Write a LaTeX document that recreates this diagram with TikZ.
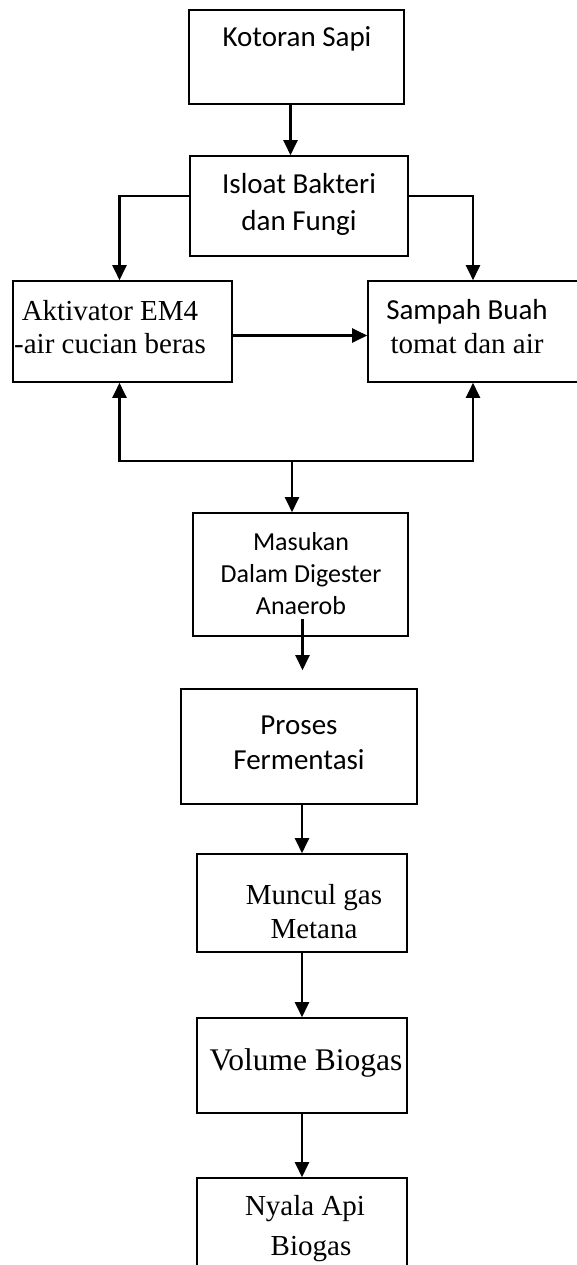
\documentclass[tikz,border=0pt]{standalone}
\usepackage{fontspec}
\setmainfont{Liberation Serif}
\newfontfamily\calibri{Carlito}
\usetikzlibrary{arrows.meta, positioning}

\begin{document}
\begin{tikzpicture}
  [
    x=1pt, y=-1pt,
    box/.style={draw, line width=1.6pt, inner sep=0pt},
    txt/.style={align=center, anchor=base, inner sep=0pt},
    flow/.style={line width=2.3pt, -{Triangle[length=15pt,width=14pt]}}
  ]
  \useasboundingbox (0,0) rectangle (576,1265);

  % boxes
  \node[box, minimum width=215pt, minimum height=94pt] (b1) at (296.5,57) {};
  \node[box, minimum width=218pt, minimum height=100pt] (b2) at (299,206) {};
  \node[box, minimum width=219pt, minimum height=101pt] (b3) at (122.5,331.5) {};
  \node[box, minimum width=220pt, minimum height=101pt] (b4) at (478,331.5) {};
  \node[box, minimum width=215pt, minimum height=123pt] (b5) at (300.5,574.5) {};
  \node[box, minimum width=236pt, minimum height=115pt] (b6) at (299,746.5) {};
  \node[box, minimum width=210pt, minimum height=98pt] (b7) at (302,903) {};
  \node[box, minimum width=210pt, minimum height=95pt] (b8) at (302,1065.5) {};
  \node[box, minimum width=210pt, minimum height=112pt] (b9) at (302,1234) {};

  % texts (base = last line)
  \node[txt, font=\calibri\fontsize{29}{35}\selectfont] (t1) at (297,47) {Kotoran Sapi};
  \node[txt, font=\calibri\fontsize{29}{37}\selectfont] (t2) at (299,231) {Isloat Bakteri\\dan Fungi};
  \node[txt, font=\fontsize{29}{33}\selectfont] (t3) at (110,353) {Aktivator EM4\\-air cucian beras};
  \node[txt, font=\fontsize{29}{34}\selectfont] (t4) at (467,353) {{\calibri Sampah Buah}\\tomat dan air};
  \node[txt, font=\calibri\fontsize{26}{32}\selectfont] (t5) at (301,614) {Masukan\\Dalam Digester\\Anaerob};
  \node[txt, font=\calibri\fontsize{29}{35}\selectfont] (t6) at (299,769) {Proses\\Fermentasi};
  \node[txt, font=\fontsize{29}{34}\selectfont] (t7) at (314,938) {Muncul gas\\Metana};
  \node[txt, font=\fontsize{31.5}{35}\selectfont] (t8) at (306,1070) {Volume Biogas};
  \node[txt, font=\fontsize{29}{40}\selectfont] (t9) at (305,1255) {Nyala Api\\\hspace*{12pt}Biogas};

  % connectors
  \coordinate (j) at (292,461);
  \draw[flow] ([xshift=-6pt]b1.south) -- ([xshift=-6pt]b1.south |- b2.north);
  \draw[flow] ([yshift=10pt]b2.west) -| ([xshift=-3pt]b3.north);
  \draw[flow] ([yshift=10pt]b2.east) -| ([xshift=-5pt]b4.north);
  \draw[flow] ([yshift=-4pt]b3.east) -- ([yshift=-4pt]b4.west);
  \draw[flow] (j) -| ([xshift=-3pt]b3.south);
  \draw[flow] (j) -| ([xshift=-5pt]b4.south);
  \draw[flow] (j) -- (j |- b5.north);
  \draw[flow] ([xshift=2pt,yshift=18pt]b5.south) -- ([xshift=2pt,yshift=18pt]b5.south |- b6.north);
  \draw[flow] (b6.south -| b7.north) -- (b7.north);
  \draw[flow] (b7) -- (b8);
  \draw[flow] (b8) -- (b9);
\end{tikzpicture}
\end{document}
